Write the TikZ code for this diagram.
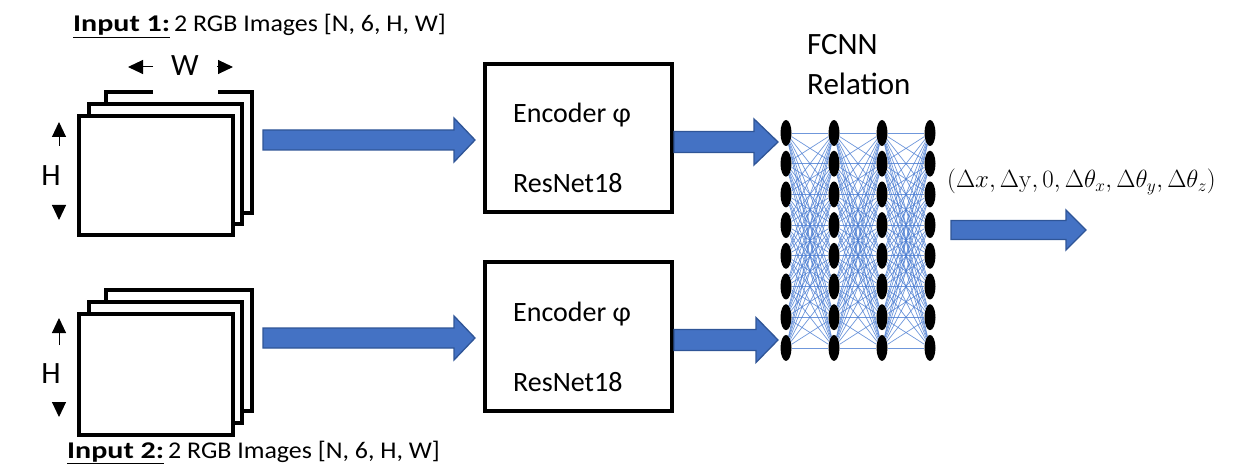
\documentclass[tikz,border=0pt]{standalone}
\usepackage[no-math]{fontspec}
\usepackage{graphicx}
\setmainfont{Carlito}
\usetikzlibrary{calc,arrows.meta,shapes.geometric}
\definecolor{arrfill}{RGB}{68,114,196}
\definecolor{arrdraw}{RGB}{47,85,151}
\definecolor{netblue}{RGB}{75,125,210}
% block arrow: #1 tail, #2 tip, #3 shaft half height, #4 head half height, #5 head length (pt)
\newcommand{\blockarr}[5]{%
  \draw[blockarrow] let \p1=(#1), \p2=(#2) in
    ({\x1},{\y1+#3pt}) -- ({\x2-#5pt},{\y1+#3pt}) -- ({\x2-#5pt},{\y1+#4pt}) --
    ({\x2},{\y1}) -- ({\x2-#5pt},{\y1-#4pt}) -- ({\x2-#5pt},{\y1-#3pt}) --
    ({\x1},{\y1-#3pt}) -- cycle;}
\newcommand{\inputtext}[1]{\scalebox{1.25}[1]{\textbf{\underline{Input #1:}}}\,\scalebox{1.08}[1]{2 RGB Images [N, 6, H, W]}}
\begin{document}
\begin{tikzpicture}[x=1pt,y=-1pt,
  imgbox/.style={draw=black, line width=4pt, fill=white, inner sep=0pt, outer sep=0pt},
  encbox/.style={draw=black, line width=4pt, fill=white, inner sep=0pt, outer sep=0pt,
                 minimum width=187pt},
  blockarrow/.style={fill=arrfill, draw=arrdraw, line width=1.3pt, line join=miter},
  dimarrow/.style={line width=1pt, -{Triangle[length=15pt,width=14pt]}},
  neuron/.style={ellipse, fill=black, minimum width=11pt, minimum height=26pt, inner sep=0pt},
  netedge/.style={draw=netblue, line width=0.7pt, opacity=0.8},
  lbl/.style={inner sep=0pt, anchor=base west},
  inputlbl/.style={lbl, font=\fontsize{24}{28}\selectfont},
  enclbl/.style={lbl, font=\fontsize{28}{33}\selectfont},
  fclbl/.style={lbl, font=\fontsize{31}{36}\selectfont},
  dimlbl/.style={inner sep=0pt, font=\fontsize{31}{36}\selectfont}
]
\useasboundingbox (0,0) rectangle (1250,470);

% ---------- input 1 ----------
\node[inputlbl] (in1) at (73,32) {\inputtext{1}};
\fill[white] (106,92) rectangle (252,213);
\draw[line width=4pt] (153,92) -- (106,92) -- (106,213) -- (252,213) -- (252,92) -- (218,92);
\draw[imgbox] (89,104) rectangle (242,224);
\node[imgbox, minimum width=154pt, minimum height=119pt] (img1) at (156,175.5) {};
\node[dimlbl] (w1) at (185,66) {W};
\draw[dimarrow] (153,67) -- (128,67);
\draw[dimarrow] (217,67) -- (233,67);
\node[dimlbl] (h1) at (51,176) {H};
\draw[dimarrow] (59,146) -- (59,122);
\draw[dimarrow] (59,205) -- (59,220);

% ---------- input 2 ----------
\node[inputlbl] (in2) at (67,458) {\inputtext{2}};
\draw[imgbox] (106,290) rectangle (252,411);
\draw[imgbox] (89,302) rectangle (242,423);
\node[imgbox, minimum width=154pt, minimum height=121pt] (img2) at (156,374.5) {};
\node[dimlbl] (h2) at (51,374) {H};
\draw[dimarrow] (59,345) -- (59,318);
\draw[dimarrow] (59,403) -- (59,417);

% ---------- encoders ----------
\node[encbox, minimum height=148pt] (enc1) at (578.5,138) {};
\node[enclbl] (e1a) at (513,123) {Encoder φ};
\node[enclbl] (e1b) at (513,193) {ResNet18};
\node[encbox, minimum height=149pt] (enc2) at (578.5,336.5) {};
\node[enclbl] (e2a) at (513,321) {Encoder φ};
\node[enclbl] (e2b) at (513,391) {ResNet18};

% ---------- arrows ----------
\coordinate (a1s) at (263,140);  \coordinate (a1e) at (475,140);
\coordinate (a2s) at (263,338);  \coordinate (a2e) at (475,338);
\coordinate (b1s) at (674,142);  \coordinate (b1e) at (778,142);
\coordinate (b2s) at (674,340);  \coordinate (b2e) at (778,340);
\coordinate (c1s) at (951,230);  \coordinate (c1e) at (1086,230);
\blockarr{a1s}{a1e}{10}{22}{21}
\blockarr{a2s}{a2e}{10}{22}{21}
\blockarr{b1s}{b1e}{10.5}{23}{24}
\blockarr{b2s}{b2e}{10.5}{22.5}{22}
\blockarr{c1s}{c1e}{9.5}{20}{20}

% ---------- FCNN ----------
\node[fclbl] (fc1) at (807,55) {FCNN};
\node[fclbl] (fc2) at (807,95) {Relation};
\foreach \c/\x in {1/786,2/834,3/882,4/930}
  \foreach \r in {0,...,7}
    \node[neuron] (n\c\r) at (\x,{133+30.7*\r}) {};
\foreach \c/\d in {1/2,2/3,3/4}
  \foreach \r in {0,...,7}
    \foreach \s in {0,...,7}
      \draw[netedge] (n\c\r) -- (n\d\s);

% ---------- output ----------
\node[lbl, font=\fontsize{25}{29}\selectfont] (out) at (947,188)
  {$(\Delta x, \Delta \mathrm{y}, 0, \Delta\theta_x, \Delta\theta_y, \Delta\theta_z)$};
\end{tikzpicture}
\end{document}
